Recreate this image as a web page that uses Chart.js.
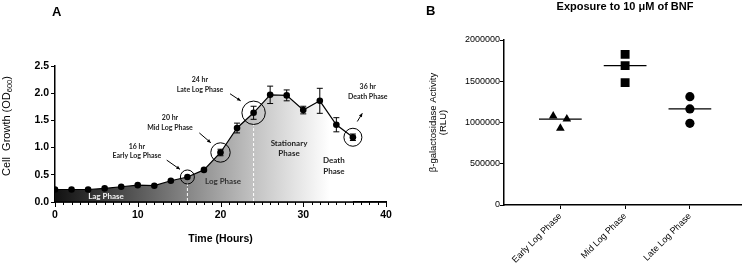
<!DOCTYPE html>
<html><head><meta charset="utf-8">
<script src="https://cdn.jsdelivr.net/npm/chart.js@4"></script>
<style>
html,body{margin:0;padding:0;background:#fff;}
#wrap{position:relative;width:748px;height:267px;overflow:hidden;background:#fff;}
#ca{position:absolute;left:0;top:0;}
#cb{position:absolute;left:420px;top:0;}
</style></head><body>
<div id="wrap">
<canvas id="ca" width="420" height="267"></canvas>
<canvas id="cb" width="328" height="267"></canvas>
</div>
<script>
// ---------- Panel A data ----------
const hours = [0,2,4,6,8,10,12,14,16,18,20,22,24,26,28,30,32,34,36];
const od    = [0.23,0.23,0.23,0.25,0.28,0.31,0.30,0.39,0.46,0.59,0.91,1.36,1.64,1.97,1.96,1.69,1.86,1.42,1.19];
const odErr = [0.01,0.01,0.01,0.01,0.01,0.01,0.01,0.01,0.02,0.02,0.06,0.09,0.12,0.16,0.10,0.07,0.23,0.13,0.06];
const xTicksA = [0,10,20,30,40];
const yTicksA = [0,0.5,1.0,1.5,2.0,2.5];
const highlightHours = [16,20,24,36];
const highlightText = [['16 hr','Early Log Phase'],['20 hr','Mid Log Phase'],['24 hr','Late Log Phase'],['36 hr','Death Phase']];
const phaseText = [['Lag Phase'],['Log Phase'],['Stationary','Phase'],['Death','Phase']];
const phaseBoundaries = [16,24];

// ---------- Panel B data ----------
const categoriesB = ['Early Log Phase','Mid Log Phase','Late Log Phase'];
const earlyVals = [1080000,930000,1042000];
const midVals   = [1826000,1689000,1483000];
const lateVals  = [1313000,1164000,990000];
const yTicksB = [0,500000,1000000,1500000,2000000];

const BOLD = 'Liberation Sans, Arial, sans-serif';
const NOTE = 'Lato, Open Sans, sans-serif';

function median(a){const s=[...a].sort((p,q)=>p-q);return s[Math.floor(s.length/2)];}

// ---------- Panel A ----------
const annotA = {
  id:'annotA',
  afterDatasetsDraw(chart){
    const {ctx, scales:{x,y}, chartArea:ca} = chart;
    const X=v=>x.getPixelForValue(v), Y=v=>y.getPixelForValue(v);
    ctx.save();
    // dashed phase boundaries
    ctx.strokeStyle='#fff'; ctx.lineWidth=1; ctx.setLineDash([3,2]);
    const tops=[0.34,1.43];
    phaseBoundaries.forEach((h,i)=>{ctx.beginPath();ctx.moveTo(X(h),Y(0)-1);ctx.lineTo(X(h),Y(tops[i]));ctx.stroke();});
    ctx.setLineDash([]);
    // x axis line and ticks (over the fill)
    ctx.strokeStyle='#000'; ctx.lineWidth=1.5;
    ctx.beginPath();ctx.moveTo(ca.left-0.75,Y(0));ctx.lineTo(ca.right,Y(0));ctx.stroke();
    ctx.lineWidth=1;
    for(let v=0;v<=40;v++){
      const len=xTicksA.includes(v)?5:3, px=Math.round(X(v))+0.5;
      ctx.beginPath();ctx.moveTo(px,Y(0));ctx.lineTo(px,Y(0)+len);ctx.stroke();
    }
    // error bars
    hours.forEach((h,i)=>{
      if(odErr[i]<0.04) return;
      const px=X(h), t=Y(od[i]+odErr[i]), b=Y(od[i]-odErr[i]);
      ctx.beginPath();ctx.moveTo(px,t);ctx.lineTo(px,b);
      ctx.moveTo(px-3,t);ctx.lineTo(px+3,t);ctx.moveTo(px-3,b);ctx.lineTo(px+3,b);ctx.stroke();
    });
    // highlight circles
    const radii=[7,9.7,11.7,9];
    highlightHours.forEach((h,i)=>{
      const idx=hours.indexOf(h);
      ctx.beginPath();ctx.arc(X(h),Y(od[idx]),radii[i],0,Math.PI*2);ctx.stroke();
    });
    // arrows
    const arrows=[[13.5,0.77,15.1,0.60],[17.44,1.27,18.82,1.09],[21.15,1.99,22.44,1.86],[36.53,1.48,37.14,1.63]];
    arrows.forEach(a=>{
      const x1=X(a[0]),y1=Y(a[1]),x2=X(a[2]),y2=Y(a[3]);
      ctx.beginPath();ctx.moveTo(x1,y1);ctx.lineTo(x2,y2);ctx.stroke();
      const ang=Math.atan2(y2-y1,x2-x1);
      ctx.beginPath();ctx.moveTo(x2,y2);
      ctx.lineTo(x2-4*Math.cos(ang-0.45),y2-4*Math.sin(ang-0.45));
      ctx.lineTo(x2-4*Math.cos(ang+0.45),y2-4*Math.sin(ang+0.45));
      ctx.closePath();ctx.fillStyle='#000';ctx.fill();
    });
    // annotation text
    ctx.textAlign='center';ctx.textBaseline='middle';
    const tpos=[[9.9,1.02],[13.9,1.54],[17.52,2.24],[37.8,2.11]];
    ctx.font='bold 7px '+NOTE; ctx.fillStyle='#222';
    highlightText.forEach((t,i)=>{
      ctx.fillText(t[0],X(tpos[i][0]),Y(tpos[i][1]));
      ctx.fillText(t[1],X(tpos[i][0]),Y(tpos[i][1])+9.5);
    });
    const ppos=[[6.16,0.10],[20.3,0.37],[28.28,1.08],[33.7,0.76]];
    const pcol=['#f2f2f2','#333','#222','#222'];
    ctx.font='bold 8px '+NOTE;
    phaseText.forEach((t,i)=>{
      ctx.fillStyle=pcol[i];
      t.forEach((s,j)=>ctx.fillText(s,X(ppos[i][0]),Y(ppos[i][1])+j*10.3));
    });
    // panel letter
    ctx.font='bold 13px '+BOLD; ctx.fillStyle='#000'; ctx.textAlign='left';
    ctx.fillText('A',52,12);
    // y title with subscript
    ctx.translate(7,126);ctx.rotate(-Math.PI/2);
    const main='Cell  Growth (OD', sub='600', end=')';
    const F='11px '+BOLD, FS='7.5px '+BOLD;
    ctx.font=F; const w1=ctx.measureText(main).width;
    ctx.font=FS; const w2=ctx.measureText(sub).width;
    ctx.font=F; const w3=ctx.measureText(end).width;
    let sx=-(w1+w2+w3)/2;
    ctx.textAlign='left';
    ctx.fillText(main,sx,0); sx+=w1;
    ctx.font=FS; ctx.fillText(sub,sx,3); sx+=w2;
    ctx.font=F; ctx.fillText(end,sx,0);
    ctx.restore();
  }
};

new Chart(document.getElementById('ca'),{
  type:'line',
  data:{datasets:[{
    data:hours.map((h,i)=>({x:h,y:od[i]})),
    borderColor:'#000',borderWidth:1.2,tension:0,
    pointRadius:3.3,pointBackgroundColor:'#000',pointBorderWidth:0,
    fill:'origin',
    backgroundColor:(c)=>{
      const a=c.chart.chartArea; if(!a) return '#888';
      const g=c.chart.ctx.createLinearGradient(a.left,0,a.right,0);
      g.addColorStop(0,'#111');g.addColorStop(0.2,'#4a4a4a');g.addColorStop(0.4,'#868686');
      g.addColorStop(0.6,'#c2c2c2');g.addColorStop(0.72,'#e2e2e2');g.addColorStop(0.83,'#ffffff');g.addColorStop(1,'#ffffff');
      return g;
    }
  }]},
  options:{
    responsive:false,animation:false,events:[],
    layout:{padding:{top:66,right:34,left:0,bottom:0}},
    plugins:{legend:{display:false},tooltip:{enabled:false}},
    scales:{
      x:{type:'linear',min:0,max:40,
        afterBuildTicks:s=>{s.ticks=xTicksA.map(v=>({value:v}));},
        ticks:{autoSkip:false,maxRotation:0,minRotation:0,padding:3,color:'#000',
          font:{family:BOLD,size:10.5,weight:'bold'},
          callback:v=>String(v)},
        grid:{display:true,drawOnChartArea:false,tickLength:4,tickColor:'rgba(0,0,0,0)'},
        border:{color:'#000',width:1.5},
        title:{display:true,text:'Time (Hours)',color:'#000',font:{family:BOLD,size:10.5,weight:'bold'},padding:{top:0,bottom:21.5}},
        afterFit:s=>{s.height=65;}
      },
      y:{min:0,max:2.5,
        afterBuildTicks:s=>{s.ticks=yTicksA.map(v=>({value:v}));},
        ticks:{padding:2,color:'#000',font:{family:BOLD,size:10.5,weight:'bold'},callback:v=>Number(v).toFixed(1)},
        grid:{display:true,drawOnChartArea:false,tickLength:4,tickColor:'#000'},
        border:{color:'#000',width:1.5},
        afterFit:s=>{s.width=55;}
      }
    }
  },
  plugins:[annotA]
});

// ---------- Panel B ----------
const jitterEarly=[-0.11,0,0.1];
const annotB={
  id:'annotB',
  afterDatasetsDraw(chart){
    const {ctx,scales:{x,y}}=chart;
    ctx.save();
    ctx.strokeStyle='#000';ctx.lineWidth=1.2;
    [earlyVals,midVals,lateVals].forEach((vals,i)=>{
      const m=median(vals), py=y.getPixelForValue(m);
      ctx.beginPath();ctx.moveTo(x.getPixelForValue(i+1-0.33),py);ctx.lineTo(x.getPixelForValue(i+1+0.33),py);ctx.stroke();
    });
    ctx.fillStyle='#000';ctx.textBaseline='middle';
    ctx.font='bold 11px '+BOLD;ctx.textAlign='center';
    ctx.fillText('Exposure to 10 μM of BNF',205,7);
    ctx.font='bold 13px '+BOLD;ctx.textAlign='left';
    ctx.fillText('B',6,11);
    ctx.restore();
  }
};

new Chart(document.getElementById('cb'),{
  type:'scatter',
  data:{datasets:[
    {data:earlyVals.map((v,i)=>({x:1+jitterEarly[i],y:v})),pointStyle:'triangle',pointRadius:5,backgroundColor:'#000',borderColor:'#000',borderWidth:0},
    {data:midVals.map(v=>({x:2,y:v})),pointStyle:'rect',pointRadius:6.3,backgroundColor:'#000',borderColor:'#000',borderWidth:0},
    {data:lateVals.map(v=>({x:3,y:v})),pointStyle:'circle',pointRadius:4.6,backgroundColor:'#000',borderColor:'#000',borderWidth:0}
  ]},
  options:{
    responsive:false,animation:false,events:[],
    layout:{padding:{top:40,right:5,left:4,bottom:0}},
    plugins:{legend:{display:false},tooltip:{enabled:false}},
    scales:{
      x:{type:'linear',min:0.13,max:3.8,
        afterBuildTicks:s=>{s.ticks=categoriesB.map((c,i)=>({value:i+1}));},
        ticks:{autoSkip:false,minRotation:45,maxRotation:45,padding:2,color:'#000',
          font:{family:BOLD,size:9},callback:v=>categoriesB[v-1]},
        grid:{display:true,drawOnChartArea:false,tickLength:4,tickColor:'#000'},
        border:{color:'#000',width:1.5},
        afterFit:s=>{s.height=62;}
      },
      y:{min:0,max:2000000,
        afterBuildTicks:s=>{s.ticks=yTicksB.map(v=>({value:v}));},
        ticks:{padding:0,color:'#000',font:{family:BOLD,size:9},callback:v=>String(v)},
        grid:{display:true,drawOnChartArea:false,tickLength:4,tickColor:'#000'},
        border:{color:'#000',width:1.5},
        title:{display:true,text:['β-galactosidase Activity','(RLU)'],color:'#000',font:{family:BOLD,size:9.5,lineHeight:1.05},padding:{top:4,bottom:0}},
        afterFit:s=>{s.width=80;}
      }
    }
  },
  plugins:[annotB]
});
</script>
</body></html>
